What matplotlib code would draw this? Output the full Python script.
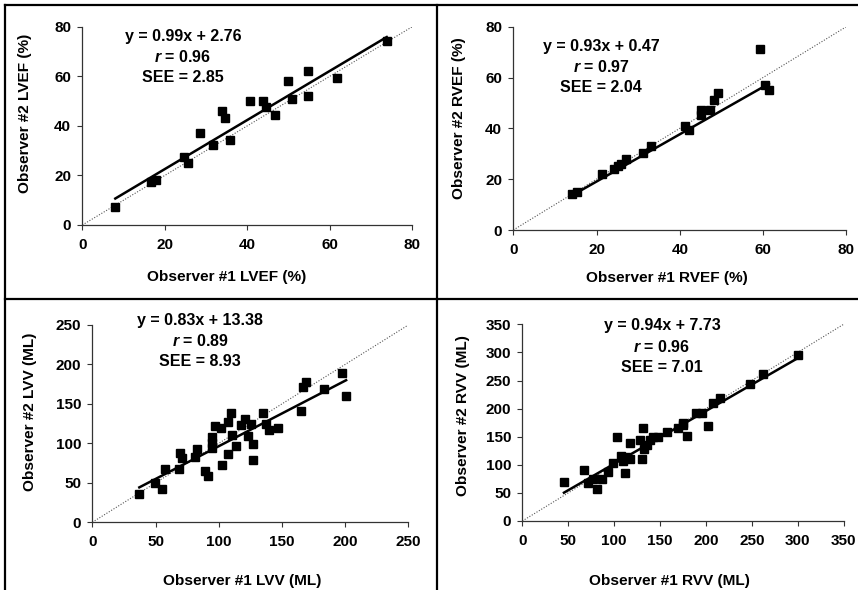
"""
Inter-observer agreement for LVEF, RVEF, LVV and RVV: a 2x2 grid of
scatter plots with the least-squares line, the line of identity and the
fit statistics written in each panel.
"""

from __future__ import annotations

import matplotlib

matplotlib.use("Agg")
import matplotlib.pyplot as plt
from matplotlib.lines import Line2D
import numpy as np

plt.rcParams["font.family"] = ["Liberation Sans", "DejaVu Sans"]
plt.rcParams["font.weight"] = "bold"
plt.rcParams["mathtext.fontset"] = "custom"
plt.rcParams["mathtext.it"] = "Liberation Sans:italic:bold"
plt.rcParams["mathtext.rm"] = "Liberation Sans:bold"

# --- data ---------------------------------------------------------------
lvef_obs1 = [8, 16.7, 17.8, 24.7, 25.6, 28.6, 31.7, 33.8, 34.7, 35.7,
             40.7, 43.7, 44.6, 46.7, 49.8, 50.8, 54.8, 54.8, 61.7, 73.8]
lvef_obs2 = [7.4, 17.4, 18.1, 27.5, 25.1, 37.2, 32.2, 46.0, 43.0, 34.2,
             50.1, 50.1, 47.7, 44.2, 58.1, 51.0, 62.0, 52.1, 59.3, 74.3]

rvef_obs1 = [14.1, 15.2, 21.2, 24.2, 25.2, 25.9, 27.0, 31.2, 33.2, 41.2,
             42.2, 45.0, 45.0, 47.2, 48.2, 49.1, 59.2, 60.4, 61.4]
rvef_obs2 = [14.2, 15.0, 22.1, 23.9, 25.2, 26.0, 27.8, 30.4, 33.0, 41.1,
             39.3, 47.2, 45.2, 47.2, 51.1, 54.0, 71.3, 57.1, 55.1]

lvv_obs1 = [37.2, 49.3, 55.4, 57.5, 68.9, 69.4, 71.2, 81.5, 83.1, 89.2,
            91.3, 95.0, 95.0, 95.0, 97.1, 101.6, 102.9, 107.7, 107.7,
            109.5, 110.3, 113.5, 117.4, 121.1, 123.0, 125.3, 127.4, 127.4,
            135.4, 137.2, 139.8, 147.2, 165.2, 167.0, 169.1, 183.4, 197.4,
            200.8]
lvv_obs2 = [35.9, 50.3, 42.2, 67.6, 67.6, 87.5, 81.1, 82.4, 92.5, 64.6,
            58.7, 93.8, 101.0, 108.5, 122.5, 119.1, 72.5, 126.7, 86.6,
            138.1, 110.6, 97.1, 123.7, 130.9, 109.7, 124.5, 98.8, 79.0,
            138.1, 124.2, 117.0, 119.1, 141.1, 171.0, 178.2, 168.9, 188.8,
            160.5]

rvv_obs1 = [45.4, 67.6, 72.0, 77.4, 81.7, 86.5, 93.7, 99.2, 103.5, 107.2,
            109.3, 111.9, 113.0, 117.3, 117.3, 128.2, 130.0, 131.9, 133.0,
            135.5, 139.1, 142.0, 148.2, 157.3, 170.0, 174.7, 175.4, 179.8,
            188.9, 195.4, 201.9, 208.1, 215.4, 248.1, 261.9, 300.0]
rvv_obs2 = [70.0, 90.7, 67.0, 74.1, 56.3, 74.1, 87.8, 103.8, 150.1, 116.2,
            107.3, 86.0, 114.5, 138.2, 110.3, 144.1, 109.7, 164.9, 127.5,
            135.2, 144.1, 148.9, 148.9, 159.0, 164.9, 170.8, 175.0, 151.8,
            191.5, 191.5, 169.0, 209.3, 218.3, 243.8, 261.6, 295.4]

# printed regression statistics: slope, intercept, r, SEE
fit_slope = [0.99, 0.93, 0.83, 0.94]
fit_icept = [2.76, 0.47, 13.38, 7.73]
fit_r = ["0.96", "0.97", "0.89", "0.96"]
fit_see = ["2.85", "2.04", "8.93", "7.01"]

x_labels = ["Observer #1 LVEF (%)", "Observer #1 RVEF (%)",
            "Observer #1 LVV (ML)", "Observer #1 RVV (ML)"]
y_labels = ["Observer #2 LVEF (%)", "Observer #2 RVEF (%)",
            "Observer #2 LVV (ML)", "Observer #2 RVV (ML)"]
axis_max = [80, 80, 250, 350]
tick_step = [20, 20, 50, 50]

W, H = 858, 590

# axes boxes in pixels: left, right, top(y of max), bottom(y of 0)
_BOX = [
    (82.3, 412.3, 26.7, 225.0),
    (513.3, 846.3, 26.7, 230.0),
    (92.3, 408.3, 325.0, 522.3),
    (522.3, 843.6, 324.3, 521.0),
]
# text anchors in pixels
_XLAB = [(227, 277), (667, 278), (242, 581), (669, 581)]
_YLAB = [(25, 113), (459, 118), (30, 412), (463, 416)]
_STATS = [(183, 37), (601, 46), (200, 321), (662, 326)]


def _fx(px: float) -> float:
    return px / W


def _fy(py: float) -> float:
    return 1 - py / H


def _panel(fig, i, xs, ys):
    l, r, t, b = _BOX[i]
    ax = fig.add_axes((_fx(l), _fy(b), (r - l) / W, (b - t) / H))
    m = axis_max[i]

    ax.plot([0, m], [0, m], linestyle=(0, (1, 1.5)), color="#555555",
            linewidth=0.8, zorder=1)
    xs = np.asarray(xs)
    xl = np.array([xs.min(), xs.max()])
    ax.plot(xl, fit_slope[i] * xl + fit_icept[i], color="black",
            linewidth=1.8, zorder=2)
    ax.plot(xs, ys, "s", color="black", markersize=6.3, zorder=3)

    ax.set_xlim(0, m)
    ax.set_ylim(0, m)
    ticks = np.arange(0, m + 1, tick_step[i])
    ax.set_xticks(ticks)
    ax.set_yticks(ticks)
    for s in ("top", "right"):
        ax.spines[s].set_visible(False)
    for s in ("left", "bottom"):
        ax.spines[s].set_color("#333333")
        ax.spines[s].set_linewidth(0.9)
    ax.tick_params(axis="both", direction="out", length=3.5, width=0.8,
                   color="#333333", labelsize=11)
    ax.tick_params(axis="x", pad=6)
    ax.tick_params(axis="y", pad=4.5)

    xlx, xly = _XLAB[i]
    fig.text(_fx(xlx), _fy(xly), x_labels[i], ha="center", va="center",
             fontsize=11.1)
    ylx, yly = _YLAB[i]
    fig.text(_fx(ylx), _fy(yly), y_labels[i], ha="center", va="center",
             rotation=90, fontsize=11.1)

    sx, sy = _STATS[i]
    lines = [f"y = {fit_slope[i]:.2f}x + {fit_icept[i]:.2f}",
             f"$r$ = {fit_r[i]}",
             f"SEE = {fit_see[i]}"]
    for k, s in enumerate(lines):
        fig.text(_fx(sx), _fy(sy + 20.5 * k), s, ha="center", va="center",
                 fontsize=11.5)
    return ax


def main() -> None:
    fig = plt.figure(figsize=(W / 100, H / 100), dpi=100)
    fig.patch.set_facecolor("white")

    data = [(lvef_obs1, lvef_obs2), (rvef_obs1, rvef_obs2),
            (lvv_obs1, lvv_obs2), (rvv_obs1, rvv_obs2)]
    for i, (xs, ys) in enumerate(data):
        _panel(fig, i, xs, ys)

    # panel frame
    frame = dict(color="black", linewidth=1.6, transform=fig.transFigure)
    fig.add_artist(Line2D([_fx(5), 1], [_fy(5), _fy(5)], **frame))
    fig.add_artist(Line2D([_fx(5), 1], [_fy(299), _fy(299)], **frame))
    fig.add_artist(Line2D([_fx(5), _fx(5)], [_fy(5), 0], **frame))
    fig.add_artist(Line2D([_fx(437), _fx(437)], [_fy(5), 0], **frame))

    fig.savefig("out.png", dpi=100, facecolor="white")


if __name__ == "__main__":
    main()
